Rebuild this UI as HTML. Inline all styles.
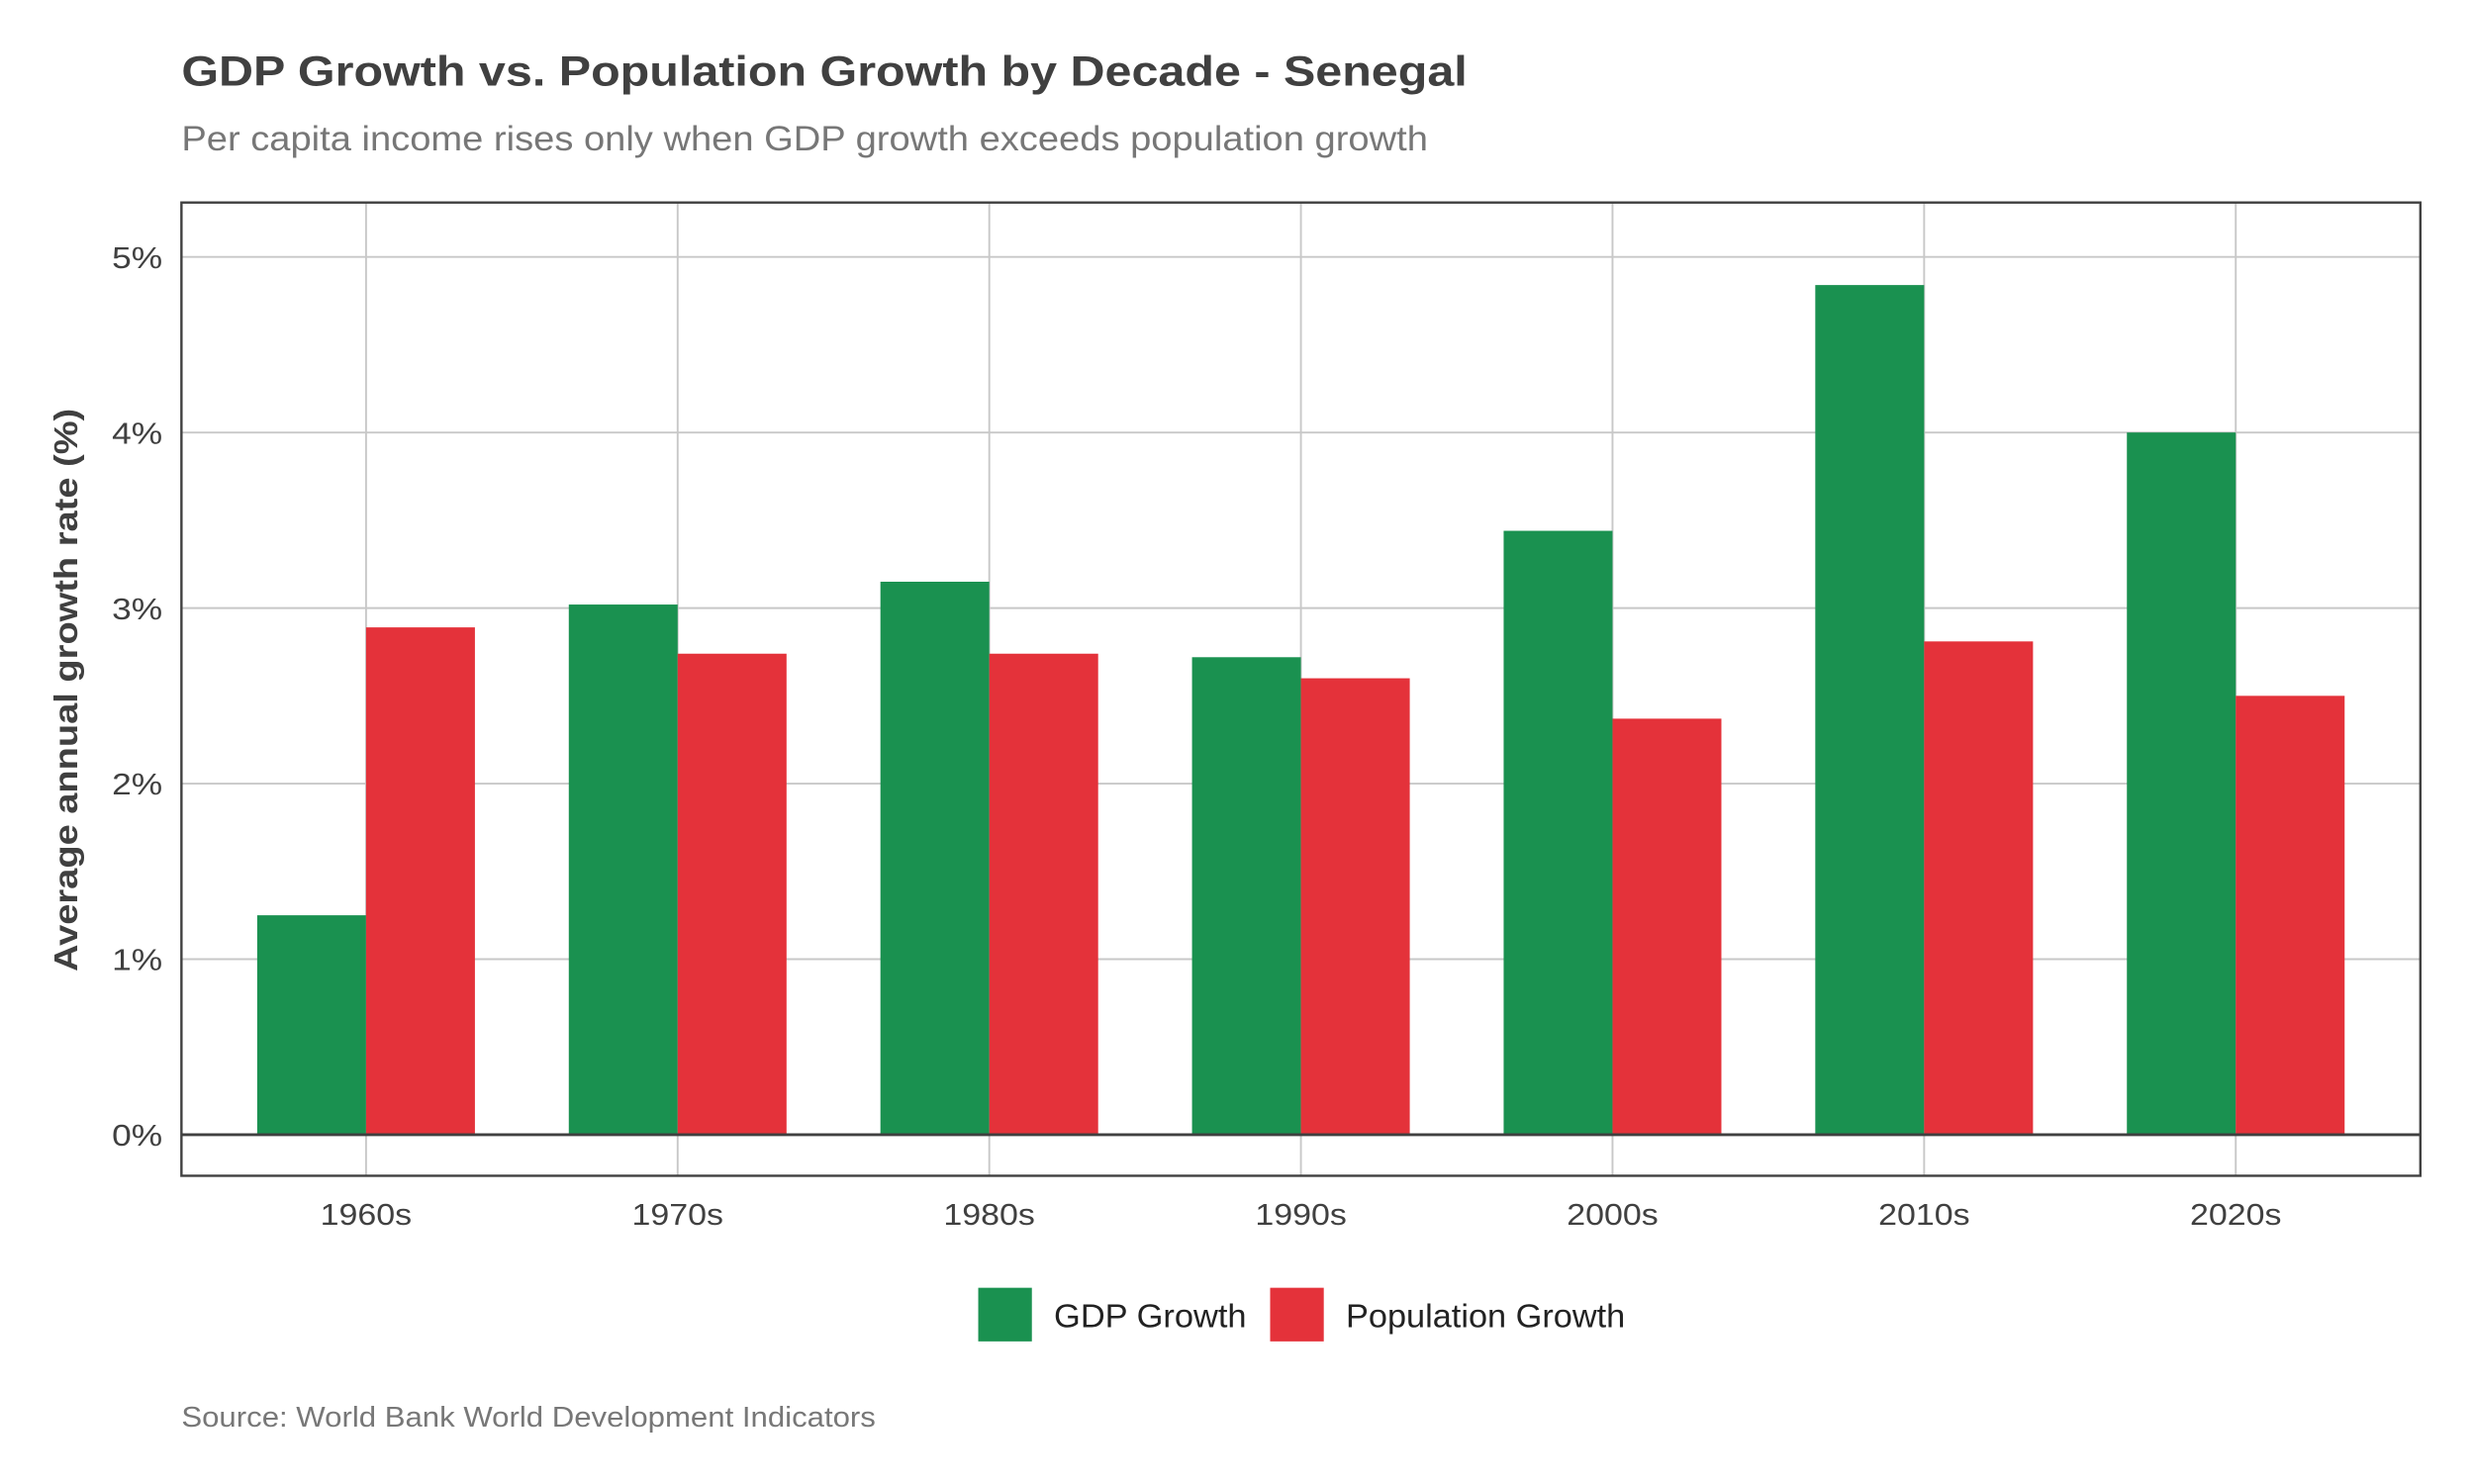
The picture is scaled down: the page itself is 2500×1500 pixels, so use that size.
<!DOCTYPE html>
<html><head><meta charset="utf-8"><style>
html,body{margin:0;padding:0;background:#fff;}
svg{display:block;font-family:"Liberation Sans",sans-serif;}
</style></head><body>
<svg id="chart" width="2500" height="1500" viewBox="0 0 1568 940" xmlns="http://www.w3.org/2000/svg">
<text x="115" y="54" font-size="27" font-weight="bold" fill="#404040" textLength="815" lengthAdjust="spacingAndGlyphs">GDP Growth vs. Population Growth by Decade - Senegal</text>
<text x="115" y="95" font-size="22" fill="#777" textLength="790" lengthAdjust="spacingAndGlyphs">Per capita income rises only when GDP growth exceeds population growth</text>
<g id="grid"></g>
<g id="bars"></g>
<g id="axes"></g>
<rect x="115" y="128" width="1419" height="617" fill="none" stroke="#404040" stroke-width="1.5"/>
<text transform="translate(49,437) rotate(-90)" text-anchor="middle" font-size="21" font-weight="bold" fill="#404040" textLength="357" lengthAdjust="spacingAndGlyphs">Average annual growth rate (%)</text>
<g>
<rect x="620" y="816" width="34" height="34" fill="#1a9150"/>
<text x="668" y="841" font-size="21" fill="#222" textLength="122" lengthAdjust="spacingAndGlyphs">GDP Growth</text>
<rect x="805" y="816" width="34" height="34" fill="#e4323a"/>
<text x="853" y="841" font-size="21" fill="#222" textLength="177" lengthAdjust="spacingAndGlyphs">Population Growth</text>
</g>
<text x="115" y="904" font-size="18" fill="#777" textLength="440" lengthAdjust="spacingAndGlyphs">Source: World Bank World Development Indicators</text>
</svg>
<script>
const categories = ["1960s","1970s","1980s","1990s","2000s","2010s","2020s"];
const gdpValues = [1.25, 3.02, 3.15, 2.72, 3.44, 4.84, 4.00];
const popValues = [2.89, 2.74, 2.74, 2.60, 2.37, 2.81, 2.50];
const yTicks = [0,1,2,3,4,5];
const yTickLabels = ["0%","1%","2%","3%","4%","5%"];

const NS = "http://www.w3.org/2000/svg";
const plot = {x0:115, x1:1534, y0:128, y1:745};
const yMin = -0.234, yMax = 5.31;
function yScale(v){ return plot.y1 - (v - yMin) / (yMax - yMin) * (plot.y1 - plot.y0); }
function xScale(i){ return 232 + i * 197.5; }
const barW = 69;
function mk(tag, attrs){ const e = document.createElementNS(NS, tag); for (const k in attrs) e.setAttribute(k, attrs[k]); return e; }
const grid = document.getElementById('grid'), bars = document.getElementById('bars'), axes = document.getElementById('axes');
yTicks.forEach((t, i) => {
  const y = yScale(t);
  const l = mk('line', {x1:plot.x0, x2:plot.x1, y1:y, y2:y, stroke:'#c8c8c8', 'stroke-width':1.2});
  
  
  grid.appendChild(l);
  const tx = mk('text', {x:103, y:y+7, 'text-anchor':'end', 'font-size':19, fill:'#404040', textLength:32, lengthAdjust:'spacingAndGlyphs'});
  tx.textContent = yTickLabels[i];
  
  
  axes.appendChild(tx);
});
categories.forEach((c, i) => {
  const x = xScale(i);
  const l = mk('line', {x1:x, x2:x, y1:plot.y0, y2:plot.y1, stroke:'#c8c8c8', 'stroke-width':1.2});
  
  
  grid.appendChild(l);
  const y0 = yScale(0);
  const g = mk('rect', {x:x-barW, y:yScale(gdpValues[i]), width:barW, height:y0-yScale(gdpValues[i]), fill:'#1a9150'});
  
  
  bars.appendChild(g);
  const p = mk('rect', {x:x, y:yScale(popValues[i]), width:barW, height:y0-yScale(popValues[i]), fill:'#e4323a'});
  
  
  bars.appendChild(p);
  const tx = mk('text', {x:x, y:776, 'text-anchor':'middle', 'font-size':19, fill:'#404040', textLength:58, lengthAdjust:'spacingAndGlyphs'});
  tx.textContent = c;
  
  
  axes.appendChild(tx);
});
const zl = mk('line', {x1:plot.x0, x2:plot.x1, y1:yScale(0), y2:yScale(0), stroke:'#404040', 'stroke-width':1.8});


axes.appendChild(zl);
</script>
</body></html>
